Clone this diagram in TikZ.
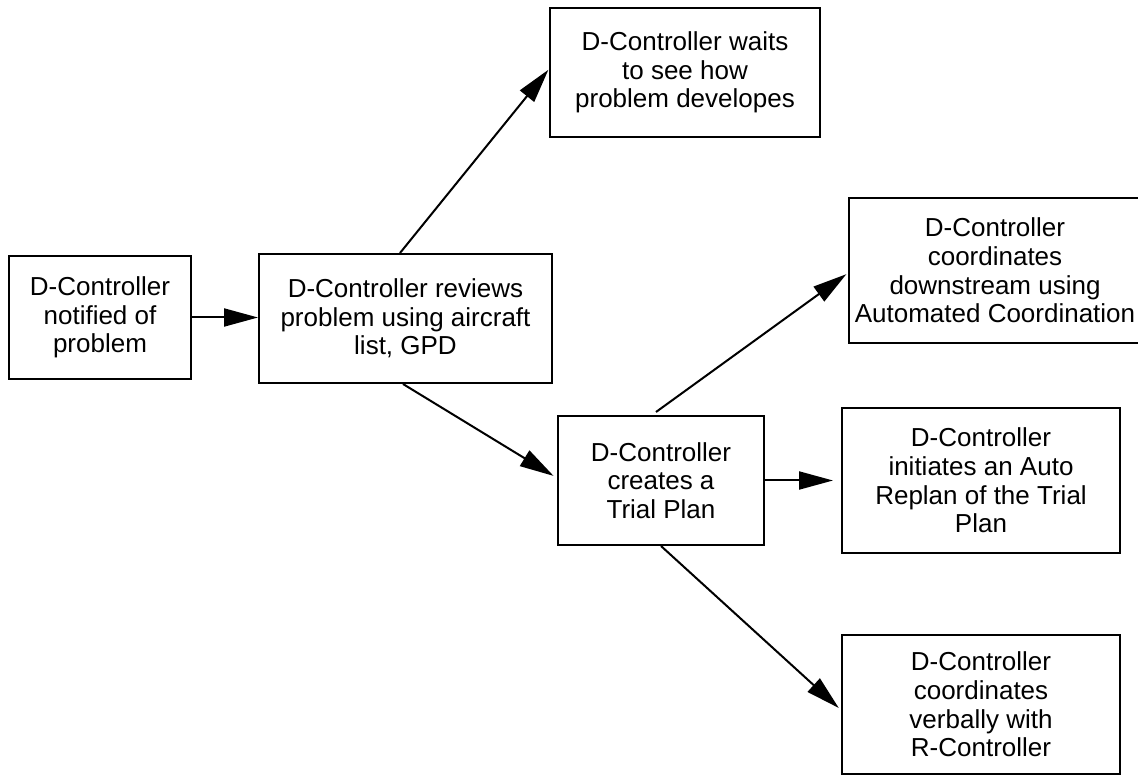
\documentclass[tikz,border=0pt]{standalone}
\usepackage{fontspec}
\setmainfont{Liberation Sans}
\usetikzlibrary{arrows.meta}
\begin{document}
\begin{tikzpicture}[x=0.5pt,y=-0.5pt,
  box/.style={draw=black,line width=1pt,rectangle,inner sep=0pt,align=center,
    font=\fontsize{13}{14.3}\selectfont},
  arr/.style={line width=1pt,-{Triangle[length=17pt,width=9pt]}}]
\useasboundingbox[fill=white] (0,0) rectangle (1138,779);
\node[box,minimum width=91pt,minimum height=61.5pt] (b1) at (100,317.5)
  {D-Controller\\notified of\\problem};
\node[box,minimum width=146.5pt,minimum height=64.5pt] (b2) at (405.5,318.5)
  {D-Controller reviews\\problem using aircraft\\list, GPD};
\node[box,minimum width=135pt,minimum height=64.5pt] (b3) at (685,72.5)
  {D-Controller waits\\to see how\\problem developes};
\node[box,minimum width=146pt,minimum height=72.5pt] (b4) at (995,270.5)
  {D-Controller\\coordinates\\downstream using\\Automated Coordination};
\node[box,minimum width=103pt,minimum height=64.5pt] (b5) at (661,480.5)
  {D-Controller\\creates a\\Trial Plan};
\node[box,minimum width=139pt,minimum height=72.5pt] (b6) at (981,480.5)
  {D-Controller\\initiates an Auto\\Replan of the Trial\\Plan};
\node[box,minimum width=139pt,minimum height=69.5pt] (b7) at (981,704.5)
  {D-Controller\\coordinates\\verbally with\\R-Controller};
\draw[arr] (b1.east) -- (b1.east -| b2.west);
\draw[arr,shorten >=0.5pt] ([xshift=-2.75pt]b2.north) -- ([yshift=1.75pt]b3.west);
\draw[arr,shorten >=2pt] ([xshift=-1.25pt]b2.south) -- ([yshift=1.25pt]b5.west);
\draw[arr,shorten >=1pt] ([xshift=-2.5pt,yshift=1.5pt]b5.north) -- ([yshift=-1.25pt]b4.west);
\draw[arr,shorten >=4pt] (b5.east) -- (b5.east -| b6.west);
\draw[arr,shorten >=1.5pt] (b5.south) -- ([yshift=-2.75pt]b7.west);
\end{tikzpicture}
\end{document}
